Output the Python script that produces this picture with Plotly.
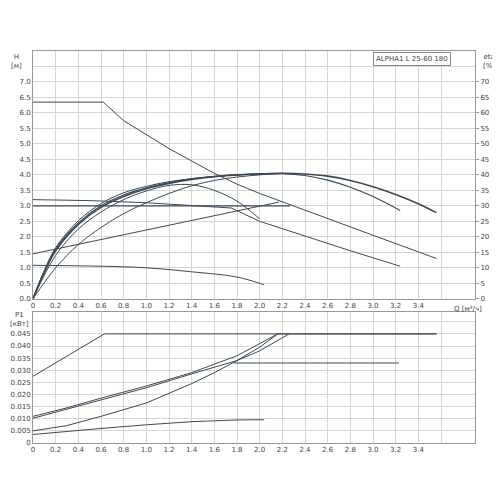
import plotly.graph_objects as go
from plotly.subplots import make_subplots

# H curves [m] vs Q [m3/h]
q_max = [0, 0.62, 0.8, 1.0, 1.2, 1.4, 1.6, 1.8, 2.0, 2.2, 2.6, 3.0, 3.56]
h_max = [6.35, 6.35, 5.75, 5.3, 4.85, 4.45, 4.05, 3.7, 3.4, 3.13, 2.6, 2.05, 1.3]
q_pp = [0, 0.5, 1.0, 1.5, 1.75, 2.0, 2.4, 2.8, 3.24]
h_pp = [3.2, 3.17, 3.1, 3.0, 2.93, 2.5, 2.02, 1.55, 1.05]
q_cp = [0, 2.27]
h_cp = [3.0, 3.0]
q_rise = [0, 2.17]
h_rise = [1.45, 3.12]
q_low = [0, 0.6, 1.0, 1.4, 1.8, 2.04]
h_low = [1.08, 1.05, 1.0, 0.87, 0.7, 0.45]

# efficiency-like curves (drawn on H scale, eta = 10*H)
q_e1 = [0, 0.1, 0.2, 0.4, 0.6, 0.8, 1.0, 1.2, 1.4, 1.6, 1.8, 2.0, 2.2, 2.4, 2.6, 2.8, 3.0, 3.2, 3.4, 3.56]
e1 = [0, 0.85, 1.55, 2.4, 2.95, 3.3, 3.55, 3.72, 3.85, 3.94, 4.0, 4.03, 4.05, 4.03, 3.96, 3.82, 3.62, 3.37, 3.07, 2.78]
q_e2 = [0, 0.1, 0.2, 0.4, 0.6, 0.8, 1.0, 1.2, 1.4, 1.6, 1.8, 2.0, 2.2, 2.4, 2.6, 2.8, 3.0, 3.24]
e2 = [0, 0.88, 1.6, 2.45, 3.0, 3.35, 3.58, 3.75, 3.87, 3.95, 4.0, 4.03, 4.04, 3.98, 3.83, 3.6, 3.3, 2.85]
q_e3 = [0, 0.1, 0.2, 0.4, 0.6, 0.8, 1.0, 1.2, 1.4, 1.6, 1.8, 2.0, 2.2]
e3 = [0, 0.92, 1.65, 2.52, 3.07, 3.42, 3.63, 3.78, 3.88, 3.95, 4.0, 4.03, 4.05]
q_e4 = [0, 0.2, 0.4, 0.6, 0.8, 1.0, 1.2, 1.4, 1.6, 1.8, 2.0, 2.2]
e4 = [0, 1.0, 1.75, 2.3, 2.75, 3.1, 3.4, 3.65, 3.82, 3.93, 4.0, 4.05]
q_e5 = [0, 0.2, 0.4, 0.6, 0.8, 1.0, 1.2, 1.4, 1.6, 1.8, 2.0]
e5 = [0, 1.4, 2.25, 2.8, 3.2, 3.48, 3.66, 3.68, 3.5, 3.15, 2.58]

# P1 curves [kW]
q_p1 = [0, 0.63, 3.56]
p1 = [0.0275, 0.045, 0.045]
q_p2 = [0, 0.3, 0.6, 1.0, 1.4, 1.8, 2.16, 3.56]
p2 = [0.011, 0.0145, 0.0185, 0.0235, 0.029, 0.036, 0.045, 0.045]
q_p3 = [0, 0.3, 0.6, 1.0, 1.4, 1.8, 2.0, 2.26]
p3 = [0.0102, 0.014, 0.0178, 0.0228, 0.0285, 0.034, 0.038, 0.045]
q_p4 = [0, 0.3, 0.6, 1.0, 1.4, 1.6, 1.8, 2.0, 2.16]
p4 = [0.005, 0.0072, 0.011, 0.0165, 0.0245, 0.029, 0.034, 0.0395, 0.045]
q_p5 = [1.77, 3.23]
p5 = [0.033, 0.033]
q_p6 = [0, 0.3, 0.6, 1.0, 1.4, 1.8, 2.04]
p6 = [0.0035, 0.0048, 0.006, 0.0075, 0.0088, 0.0095, 0.0096]

lc = "#3c4a58"
fig = make_subplots(rows=2, cols=1)

for qx, hy, w, sh in [(q_max, h_max, 1, "linear"), (q_pp, h_pp, 1, "linear"), (q_cp, h_cp, 1.2, "linear"),
                      (q_rise, h_rise, 1, "linear"), (q_low, h_low, 1, "spline"), (q_e1, e1, 1.6, "spline"),
                      (q_e2, e2, 1.2, "spline"), (q_e3, e3, 1, "spline"), (q_e4, e4, 1, "spline"),
                      (q_e5, e5, 1, "spline")]:
    fig.add_trace(go.Scatter(x=qx, y=hy, mode="lines", line=dict(color=lc, width=w, shape=sh),
                             showlegend=False), row=1, col=1)
for qx, py in [(q_p1, p1), (q_p2, p2), (q_p3, p3), (q_p4, p4), (q_p5, p5), (q_p6, p6)]:
    fig.add_trace(go.Scatter(x=qx, y=py, mode="lines", line=dict(color=lc, width=1),
                             showlegend=False), row=2, col=1)
# invisible trace for eta axis
fig.add_trace(go.Scatter(x=[0], y=[0], mode="markers", marker=dict(opacity=0),
                         showlegend=False, yaxis="y3", xaxis="x"))

tf = dict(size=7, color="#444", family="DejaVu Sans")
xt = [round(0.2 * i, 1) for i in range(19)]
xlab = ["0"] + ["%.1f" % v for v in xt[1:]]
xlab[-1] = ""
xcommon = dict(range=[0, 3.9], tickvals=xt, ticktext=xlab, showgrid=True, gridcolor="#d6d6d6",
               mirror=True, showline=True, linecolor="#999", tickfont=tf, zeroline=False, ticks="",
               automargin=False)
fig.update_xaxes(**xcommon)

hv = [0.5 * i for i in range(16)]
hl = ["%.1f" % v for v in hv]
hl[-1] = ""
fig.update_yaxes(range=[0, 8.0], tickvals=hv, ticktext=hl, showgrid=True, gridcolor="#d6d6d6",
                 mirror=True, showline=True, linecolor="#999", tickfont=tf, zeroline=False,
                 automargin=False, domain=[0.368, 1], row=1, col=1)
pv = [0.005 * i for i in range(11)]
pl = ["0"] + ["%.3f" % v for v in pv[1:]]
pl[-1] = ""
fig.update_yaxes(range=[0, 0.054], tickvals=pv, ticktext=pl, showgrid=True, gridcolor="#d6d6d6",
                 mirror=True, showline=True, linecolor="#999", tickfont=tf, zeroline=False,
                 automargin=False, domain=[0, 0.334], row=2, col=1)

ev = [5 * i for i in range(15)]
fig.update_layout(
    yaxis3=dict(overlaying="y", side="right", range=[0, 80], tickvals=ev, showgrid=False,
                tickfont=tf, ticks="outside", ticklen=3, tickcolor="#999", zeroline=False,
                automargin=False),
    width=500, height=500, plot_bgcolor="white", paper_bgcolor="white",
    margin=dict(l=25, r=33, t=43, b=65),
)

ann = [
    dict(text="H<br>[м]", x=-0.037, y=1.0, xa="center"),
    dict(text="eta<br>[%]", x=1.05, y=1.0, xa="right"),
    dict(text="P1<br>[кВт]", x=-0.03, y=0.343, xa="center"),
    dict(text="Q [м³/ч]", x=0.985, y=0.358, xa="center"),
]
for a in ann:
    fig.add_annotation(text=a["text"], x=a["x"], y=a["y"], xref="paper", yref="paper",
                       showarrow=False, font=tf, xanchor=a["xa"], yanchor="top", align="center")
fig.add_annotation(text="ALPHA1 L 25-60 180", x=0.945, y=0.998, xref="paper", yref="paper",
                   xanchor="right", yanchor="top", showarrow=False, font=tf,
                   bordercolor="#888", borderwidth=1, borderpad=2, bgcolor="white")

fig.write_html("out.html")
